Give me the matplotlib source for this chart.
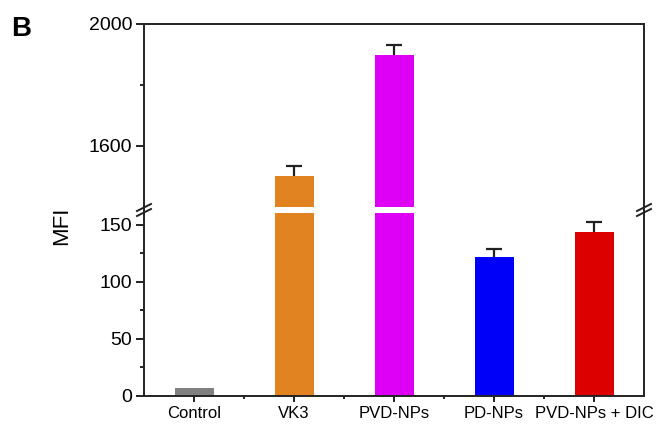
import matplotlib
matplotlib.use("Agg")
import matplotlib.pyplot as plt
from matplotlib.lines import Line2D

plt.rcParams['font.family'] = ['Liberation Sans', 'DejaVu Sans']

# data
groups = ["Control", "VK3", "PVD-NPs", "PD-NPs", "PVD-NPs + DIC"]
mfi = [7, 1500, 1898, 122, 144]
mfi_err = [0, 35, 33, 7, 8.5]
bar_colors = ["#808080", "#E08320", "#DD00F5", "#0000FA", "#DD0000"]

low_lim = (0, 160)
high_lim = (1400, 2000)

fig = plt.figure(figsize=(6.56, 4.25), dpi=100)
W, H = 656, 425
left, right = 144 / W, 644 / W
ax_hi = fig.add_axes([left, 1 - 206.7 / H, right - left, (206.7 - 24) / H])
ax_lo = fig.add_axes([left, 1 - 396 / H, right - left, (396 - 213.3) / H])

x = list(range(len(groups)))
for ax in (ax_hi, ax_lo):
    ax.bar(x, mfi, width=0.39, color=bar_colors, zorder=2)
    ax.set_xlim(-0.5, 4.5)
    for sp in ax.spines.values():
        sp.set_linewidth(1.4)
        sp.set_color("#222222")

# upper half error bars only: stem + cap marker
for i in x:
    if mfi_err[i] <= 0:
        continue
    target = ax_hi if mfi[i] > low_lim[1] else ax_lo
    target.errorbar(i, mfi[i], yerr=[[0], [mfi_err[i]]], fmt="none", ecolor="#222222",
                    elinewidth=1.6, capsize=0, zorder=3)
    target.plot([i], [mfi[i] + mfi_err[i]], marker="_", markersize=11, mew=1.6,
                color="#222222", zorder=3)

ax_hi.set_ylim(*high_lim)
ax_lo.set_ylim(*low_lim)

ax_hi.spines["bottom"].set_visible(False)
ax_lo.spines["top"].set_visible(False)
ax_hi.set_xticks([])
ax_hi.set_yticks([1600, 2000])
ax_hi.set_yticks([1800], minor=True)
ax_lo.set_yticks([0, 50, 100, 150])
ax_lo.set_yticks([25, 75, 125], minor=True)
ax_lo.set_xticks(x)
ax_lo.set_xticks([0.5, 1.5, 2.5, 3.5], minor=True)
ax_lo.set_xticklabels(groups)

for ax in (ax_hi, ax_lo):
    ax.tick_params(axis="y", which="major", direction="out", length=6, width=1.4,
                   labelsize=14, pad=2.5, color="#222222")
    ax.tick_params(axis="y", which="minor", direction="out", length=3, width=1.4,
                   color="#222222")
ax_lo.tick_params(axis="x", which="major", direction="out", length=4.5, width=1.4,
                  labelsize=12, pad=3, color="#222222")
ax_lo.tick_params(axis="x", which="minor", direction="out", length=2.5, width=1.4,
                  color="#222222")

# spine continuation and break marks between the two axes
y_mid = 1 - 210 / H
for xs in (left, right):
    fig.add_artist(Line2D([xs, xs], [1 - 206.7 / H, 1 - 213.3 / H], color="#222222",
                          lw=1.4, transform=fig.transFigure))
    for off in (-2.5, 2.5):
        yc = y_mid + off / H
        fig.add_artist(Line2D([xs - 7 / W, xs + 7 / W], [yc - 3.5 / H, yc + 3.5 / H],
                              color="#222222", lw=1.4, transform=fig.transFigure))

fig.text(62 / W, 1 - 226 / H, "MFI", rotation=90, fontsize=16, ha="center", va="center")
fig.text(11 / W, 1 - 16 / H, "B", fontsize=20, fontweight="bold", ha="left", va="top")

fig.savefig("out.png", dpi=100)
